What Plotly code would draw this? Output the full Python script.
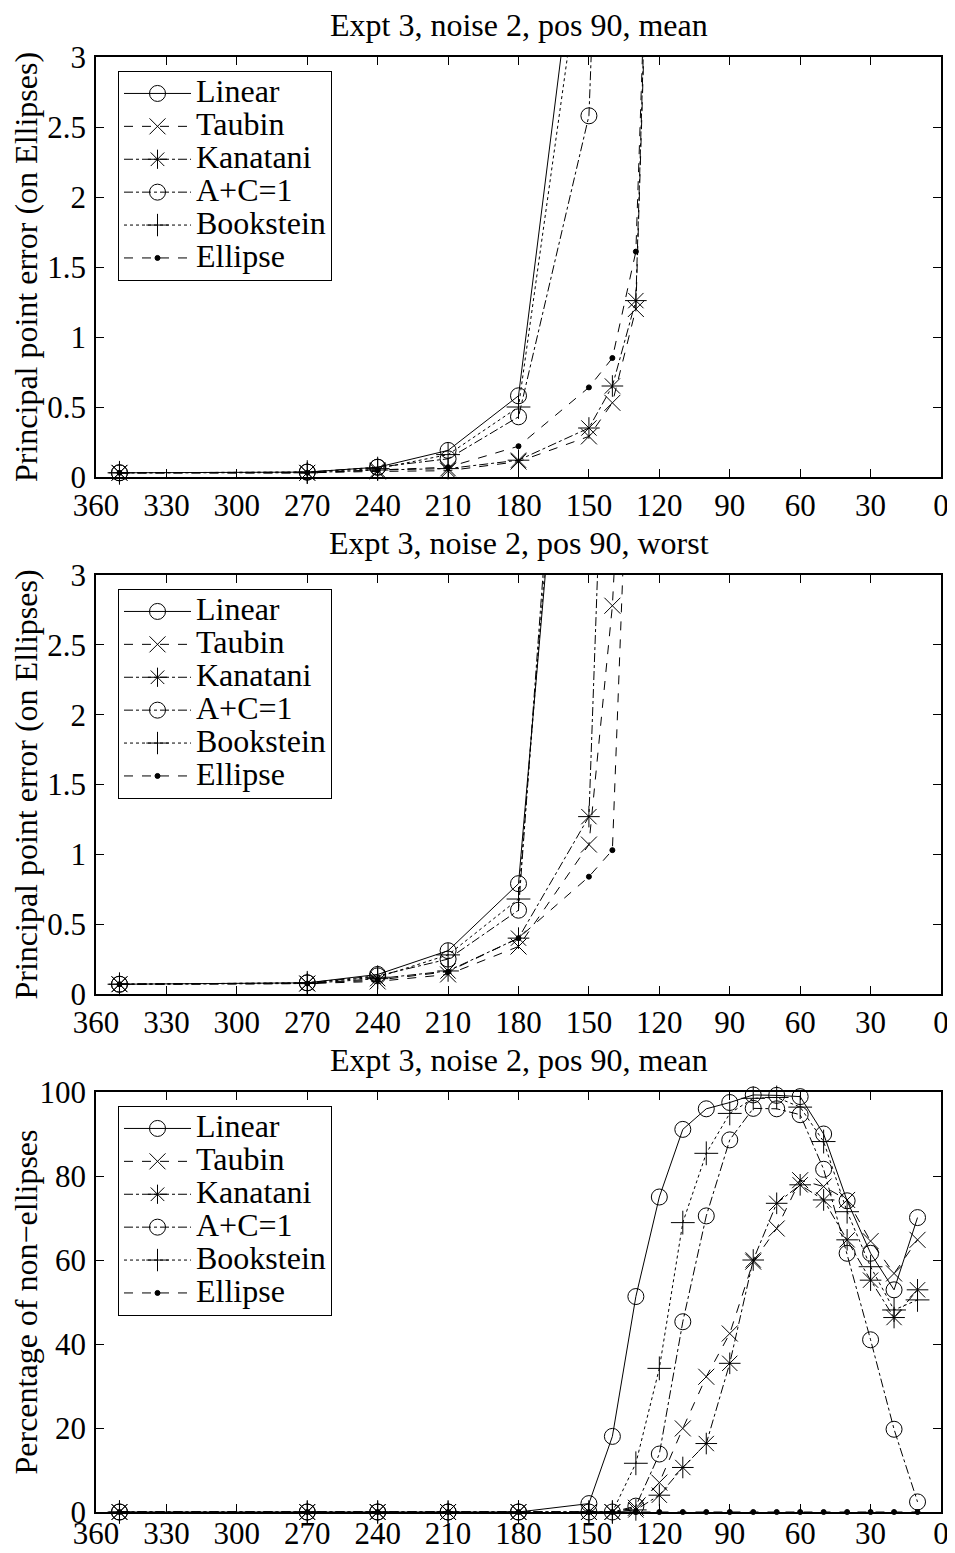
import plotly.graph_objects as go

# ---------------- data ----------------
x_vals = [350, 270, 240, 210, 180, 150, 140, 130, 120, 110, 100, 90, 80, 70, 60, 50, 40, 30, 20, 10]
methods = ["Linear", "Taubin", "Kanatani", "A+C=1", "Bookstein", "Ellipse"]

N = None
# Panel 1: mean principal point error
mean_linear    = [0.03, 0.035, 0.07, 0.19, 0.58, 4.6, N, N, N, N, N, N, N, N, N, N, N, N, N, N]
mean_taubin    = [0.03, 0.03, 0.04, 0.045, 0.11, 0.29, 0.53, 1.20, 6.6, N, N, N, N, N, N, N, N, N, N, N]
mean_kanatani  = [0.03, 0.03, 0.05, 0.06, 0.12, 0.35, 0.65, 1.26, 6.8, N, N, N, N, N, N, N, N, N, N, N]
mean_ac1       = [0.03, 0.035, 0.07, 0.13, 0.43, 2.58, 7.0, N, N, N, N, N, N, N, N, N, N, N, N, N]
mean_bookstein = [0.03, 0.035, 0.06, 0.16, 0.50, 4.1, N, N, N, N, N, N, N, N, N, N, N, N, N, N]
mean_ellipse   = [0.03, 0.03, 0.05, 0.07, 0.22, 0.64, 0.85, 1.61, 6.6, N, N, N, N, N, N, N, N, N, N, N]

# Panel 2: worst principal point error
worst_linear    = [0.07, 0.08, 0.14, 0.31, 0.79, 6.6, N, N, N, N, N, N, N, N, N, N, N, N, N, N]
worst_taubin    = [0.07, 0.075, 0.09, 0.14, 0.34, 1.07, 2.78, 6.0, N, N, N, N, N, N, N, N, N, N, N, N]
worst_kanatani  = [0.07, 0.075, 0.11, 0.165, 0.40, 1.27, 6.0, N, N, N, N, N, N, N, N, N, N, N, N, N]
worst_ac1       = [0.07, 0.08, 0.13, 0.25, 0.60, 7.5, N, N, N, N, N, N, N, N, N, N, N, N, N, N]
worst_bookstein = [0.07, 0.08, 0.12, 0.28, 0.68, 7.0, N, N, N, N, N, N, N, N, N, N, N, N, N, N]
worst_ellipse   = [0.07, 0.075, 0.10, 0.16, 0.40, 0.84, 1.03, 5.5, N, N, N, N, N, N, N, N, N, N, N, N]

# Panel 3: percentage of non-ellipses
pct_linear    = [0, 0, 0, 0, 0, 2, 18, 51.3, 75, 91.1, 96, 97.5, 99.3, 99.2, 98.9, 90, 74.1, 61.6, 52.9, 70.1]
pct_taubin    = [0, 0, 0, 0, 0, 0, 0, 1, 7, 19.9, 32.2, 42.5, 59.6, 67.5, 79, 77.5, 74.3, 64.5, 56.8, 64.8]
pct_kanatani  = [0, 0, 0, 0, 0, 0, 0, 0.5, 4, 10.6, 16.3, 35.4, 60, 73.5, 77.9, 74.3, 64.8, 55.2, 46.3, 52.9]
pct_ac1       = [0, 0, 0, 0, 0, 0, 0, 1.4, 13.8, 45.3, 70.5, 88.6, 96.1, 96, 94.6, 81.6, 61.6, 41, 19.7, 2.4]
pct_bookstein = [0, 0, 0, 0, 0, 0, 0, 11.6, 34.2, 68.9, 85.4, 94.9, 98.5, 98.7, 96.4, 88.2, 71.5, 58.4, 48.1, 50.5]
pct_ellipse   = [0] * 20

titles = ["Expt 3, noise 2, pos 90, mean", "Expt 3, noise 2, pos 90, worst", "Expt 3, noise 2, pos 90, mean"]
ylabels = ["Principal point error (on Ellipses)", "Principal point error (on Ellipses)", "Percentage of non\u2212ellipses"]
x_ticks = [360, 330, 300, 270, 240, 210, 180, 150, 120, 90, 60, 30, 0]

panels = [
    [mean_linear, mean_taubin, mean_kanatani, mean_ac1, mean_bookstein, mean_ellipse],
    [worst_linear, worst_taubin, worst_kanatani, worst_ac1, worst_bookstein, worst_ellipse],
    [pct_linear, pct_taubin, pct_kanatani, pct_ac1, pct_bookstein, pct_ellipse],
]
y_ranges = [[0, 3], [0, 3], [0, 100]]
y_dtick = [0.5, 0.5, 20]

# ---------------- styles ----------------
styles = [
    dict(dash="solid", symbol="circle-open", size=16),
    dict(dash="dash", symbol="x-thin-open", size=16),
    dict(dash="dashdot", symbol="asterisk-open", size=18),
    dict(dash="dashdot", symbol="circle-open", size=16),
    dict(dash="dot", symbol="cross-thin-open", size=17),
    dict(dash="dash", symbol="circle", size=5),
]

FONT = "Liberation Serif, Times New Roman, serif"
W, H = 955, 1553
BODY = 8  # default page body margin offset
# target plot area in page pixels: x 96..941, y 57..1512
L, R, T, B = 96 - BODY, 14 + BODY, 57 - BODY, 41 + BODY
plot_h = H - T - B
plot_w = W - L - R

def py_to_paper(py):
    return (1512 - py) / plot_h

domains = [
    [py_to_paper(477), 1.0],
    [py_to_paper(994), py_to_paper(575)],
    [0.0, py_to_paper(1092)],
]
x_label_standoff = [0, 0, -7]

fig = go.Figure()
legend_names = ["legend", "legend2", "legend3"]
for p in range(3):
    xa = "x" if p == 0 else f"x{p+1}"
    ya = "y" if p == 0 else f"y{p+1}"
    for m, name in enumerate(methods):
        st = styles[m]
        fig.add_trace(go.Scatter(
            x=x_vals, y=panels[p][m], mode="lines+markers",
            name=f'<span style="font-size:32px">{name}</span>',
            line=dict(color="black", width=1, dash=st["dash"]),
            marker=dict(symbol=st["symbol"], size=st["size"], color="black",
                        line=dict(color="black", width=1)),
            cliponaxis=False, connectgaps=False,
            xaxis=xa, yaxis=ya, legend=legend_names[p],
        ))

layout = dict(
    width=W, height=H,
    margin=dict(l=L, r=R, t=T, b=B, autoexpand=False),
    paper_bgcolor="white", plot_bgcolor="white",
    font=dict(family=FONT, size=31, color="black"),
    showlegend=True,
)
axis_common = dict(showline=True, linecolor="black", linewidth=1.5, mirror="ticks",
                   ticks="inside", ticklen=8, tickwidth=1, tickcolor="black",
                   showgrid=False, zeroline=False, automargin=False,
                   tickfont=dict(family=FONT, size=31, color="black"))
annotations = []
for p in range(3):
    xk = "xaxis" if p == 0 else f"xaxis{p+1}"
    yk = "yaxis" if p == 0 else f"yaxis{p+1}"
    ya = "y" if p == 0 else f"y{p+1}"
    xa = "x" if p == 0 else f"x{p+1}"
    layout[xk] = dict(axis_common, domain=[0, 1], anchor=ya, range=[360, 0], autorange=False,
                      tickvals=x_ticks, ticktext=[str(v) for v in x_ticks],
                      ticklabelstandoff=x_label_standoff[p])
    layout[yk] = dict(axis_common, domain=domains[p], anchor=xa, range=y_ranges[p], autorange=False,
                      dtick=y_dtick[p], tick0=0, ticklabelstandoff=2,
                      title=dict(text=ylabels[p], font=dict(family=FONT, size=32, color="black"), standoff=2))
    legend_top = domains[p][1] - 14 / plot_h
    layout[legend_names[p]] = dict(x=(118 - 96) / plot_w, y=legend_top, xanchor="left", yanchor="top",
                                   xref="paper", yref="paper",
                                   bordercolor="black", borderwidth=1, bgcolor="white",
                                   font=dict(family=FONT, size=23, color="black"),
                                   itemwidth=67, tracegroupgap=0)
    annotations.append(dict(text=titles[p], xref="paper", yref="paper", x=0.5, y=domains[p][1],
                            xanchor="center", yanchor="middle", yshift=32, showarrow=False,
                            font=dict(family=FONT, size=32, color="black")))
layout["annotations"] = annotations
fig.update_layout(**layout)
fig.write_html("out.html")
